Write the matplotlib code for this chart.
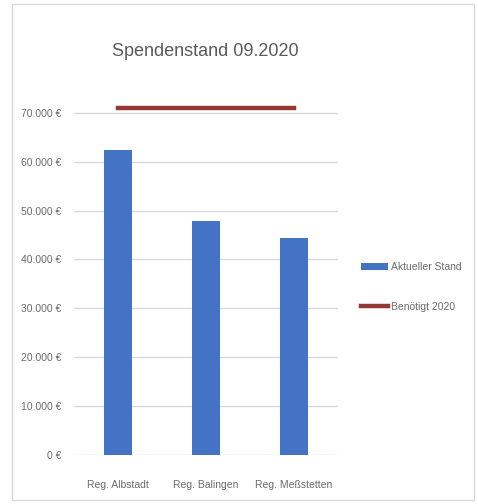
import matplotlib.pyplot as plt
from matplotlib.patches import Rectangle

plt.rcParams['font.family'] = ['Liberation Sans', 'DejaVu Sans']

categories = ['Reg. Albstadt', 'Reg. Balingen', 'Reg. Meßstetten']
aktueller_stand = [62400, 47900, 44400]
benoetigt_2020 = [71000, 71000, 71000]
yticks = [0, 10000, 20000, 30000, 40000, 50000, 60000, 70000]
ytick_labels = ['0 €', '10.000 €', '20.000 €', '30.000 €', '40.000 €',
                '50.000 €', '60.000 €', '70.000 €']

blue = '#4472C4'
red = '#953735'
grey = '#6B6B6B'

fig = plt.figure(figsize=(4.78, 5.04), dpi=100)
# chart border
fig.patches.append(Rectangle((12 / 478, 4 / 504), 462 / 478, 496 / 504,
                             transform=fig.transFigure, fill=False,
                             edgecolor='#D9D9D9', linewidth=1))

ax = fig.add_axes([74 / 478, 49 / 504, 264 / 478, 352 / 504])
x = range(len(categories))
bars = ax.bar(x, aktueller_stand, width=0.31, color=blue, label='Aktueller Stand', zorder=3)
line, = ax.plot(x, benoetigt_2020, color=red, linewidth=3.2, label='Benötigt 2020', zorder=4)

ax.set_xlim(-0.5, 2.5)
ax.set_ylim(0, 72000)
ax.set_yticks(yticks)
ax.set_yticklabels(ytick_labels)
ax.set_xticks(list(x))
ax.set_xticklabels(categories)
ax.grid(axis='y', color='#D9D9D9', linewidth=1, zorder=0)
for s in ax.spines.values():
    s.set_visible(False)
ax.tick_params(length=0, colors=grey, labelsize=7.5)
ax.tick_params(axis='y', pad=9)
ax.tick_params(axis='x', pad=18)

fig.text(205 / 478, 1 - 52 / 504, 'Spendenstand 09.2020', ha='center', va='center',
         fontsize=13, color='#5A5A5A')

fig.legend([bars, line], ['Aktueller Stand', 'Benötigt 2020'],
           loc='center left', bbox_to_anchor=(352 / 478, 1 - 287 / 504),
           frameon=False, fontsize=7.5, labelcolor=grey, handlelength=2.6,
           handletextpad=0.2, labelspacing=2.9)

fig.savefig('out.png', dpi=100, facecolor='white')
